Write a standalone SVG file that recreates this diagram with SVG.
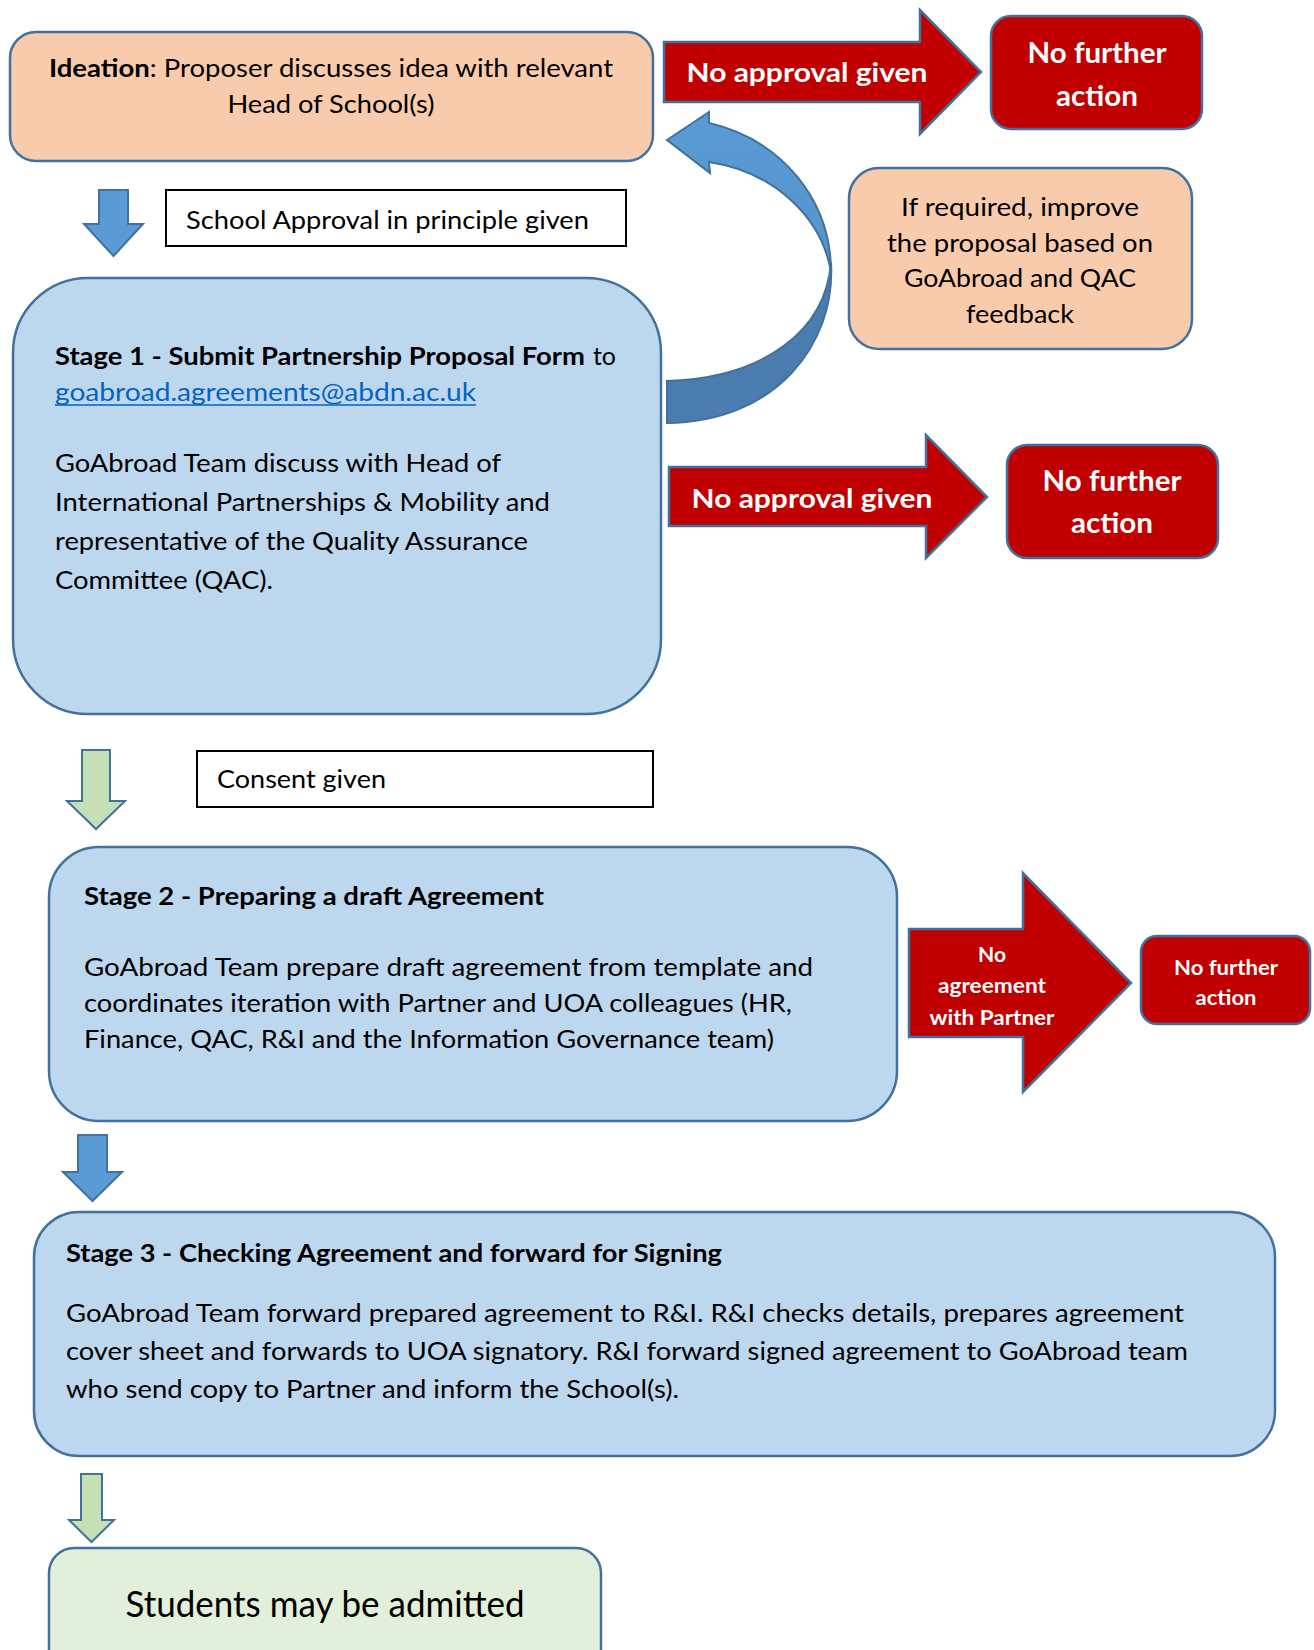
<svg xmlns="http://www.w3.org/2000/svg" width="1314" height="1650" viewBox="0 0 1314 1650">
<style>
text{font-family:Lato,"Open Sans","Liberation Sans",sans-serif;fill:#000;font-size:25px}
.b{font-weight:bold}
.w{fill:#fff;font-weight:bold}
.c{text-anchor:middle}
.f27{font-size:27px}
.f28{font-size:28px}
.f21{font-size:21px}
.f20{font-size:20px}
.f37{font-size:37px}
.link{fill:#0563C1}
.blue{fill:#BDD7EE;stroke:#41719C;stroke-width:2.5}
.peach{fill:#F8CBAD;stroke:#41719C;stroke-width:2.5}
.red{fill:#C00000;stroke:#41719C;stroke-width:2.5}
.lbl{fill:#fff;stroke:#000;stroke-width:2}
.ab{fill:#5B9BD5;stroke:#41719C;stroke-width:2}
.ag{fill:#C5E0B4;stroke:#41719C;stroke-width:2}
</style>
<defs>
<linearGradient id="cg" x1="0" y1="0" x2="0" y2="1">
<stop offset="0" stop-color="#5B9BD5"/><stop offset="1" stop-color="#5493CC"/>
</linearGradient>
</defs>
<rect width="1314" height="1650" fill="#fff"/>

<g id="connectors">
<polygon class="ab" points="99,190 128,190 128,224 143,224 113.5,256 84,224 99,224"/>
<polygon class="ag" points="82,750 110,750 110,801 125,801 96,829 67,801 82,801"/>
<polygon class="ab" points="78,1135 107,1135 107,1172 122,1172 92.5,1201 63,1172 78,1172"/>
<polygon class="ag" points="81,1474 102,1474 102,1520 114,1520 91.5,1542 69,1520 81,1520"/>
<g id="curved-arrow">
<path d="M831,262 C836,345 775,422 667,423 L667,381 C765,378 826,330 831,262 Z" fill="#4A7CB0" stroke="#41719C" stroke-width="2"/>
<path d="M667,140 L709,112 L709,123 C782,140 831,200 831,272 C822,218 775,172 709,162 L710,173 Z" fill="url(#cg)" stroke="#41719C" stroke-width="2"/>
</g>
</g>

<g id="ideation">
<rect class="peach" x="10" y="32" width="643" height="129" rx="26"/>
<text x="49" y="77" textLength="564" lengthAdjust="spacingAndGlyphs"><tspan class="b">Ideation</tspan>: Proposer discusses idea with relevant</text>
<text class="c" x="331" y="113" textLength="207" lengthAdjust="spacingAndGlyphs">Head of School(s)</text>
</g>

<g id="no-approval-1">
<polygon class="red" points="664,42 920,42 920,10 981,72 920,134 920,102 664,102"/>
<text class="w c f27" x="807" y="82" textLength="241" lengthAdjust="spacingAndGlyphs">No approval given</text>
</g>

<g id="nfa-1">
<rect class="red" x="991" y="16" width="211" height="113" rx="20"/>
<text class="w c f28" x="1097" y="63" textLength="139" lengthAdjust="spacingAndGlyphs">No further</text>
<text class="w c f28" x="1097" y="106" textLength="82" lengthAdjust="spacingAndGlyphs">action</text>
</g>

<g id="school-approval">
<rect class="lbl" x="166" y="190" width="460" height="56"/>
<text x="186" y="229" textLength="403" lengthAdjust="spacingAndGlyphs">School Approval in principle given</text>
</g>

<g id="improve">
<rect class="peach" x="849" y="168" width="343" height="181" rx="30"/>
<text class="c" x="1020" y="216" textLength="238" lengthAdjust="spacingAndGlyphs">If required, improve</text>
<text class="c" x="1020" y="252" textLength="266" lengthAdjust="spacingAndGlyphs">the proposal based on</text>
<text class="c" x="1020" y="287" textLength="232" lengthAdjust="spacingAndGlyphs">GoAbroad and QAC</text>
<text class="c" x="1020" y="323" textLength="108" lengthAdjust="spacingAndGlyphs">feedback</text>
</g>

<g id="stage1">
<rect class="blue" x="13" y="278" width="648" height="436" rx="75"/>
<text class="b" x="55" y="365" textLength="530" lengthAdjust="spacingAndGlyphs">Stage 1 - Submit Partnership Proposal Form</text>
<text x="593" y="365" textLength="23" lengthAdjust="spacingAndGlyphs">to</text>
<text class="link" x="55" y="401" textLength="421" lengthAdjust="spacingAndGlyphs">goabroad.agreements@abdn.ac.uk</text>
<line x1="55" y1="405" x2="476" y2="405" stroke="#0563C1" stroke-width="1.5"/>
<text x="55" y="472" textLength="446" lengthAdjust="spacingAndGlyphs">GoAbroad Team discuss with Head of</text>
<text x="55" y="511" textLength="495" lengthAdjust="spacingAndGlyphs">International Partnerships &amp; Mobility and</text>
<text x="55" y="550" textLength="473" lengthAdjust="spacingAndGlyphs">representative of the Quality Assurance</text>
<text x="55" y="589" textLength="218" lengthAdjust="spacingAndGlyphs">Committee (QAC).</text>
</g>

<g id="no-approval-2">
<polygon class="red" points="669,467 926,467 926,435 987,497 926,558 926,526 669,526"/>
<text class="w c f27" x="812" y="508" textLength="241" lengthAdjust="spacingAndGlyphs">No approval given</text>
</g>

<g id="nfa-2">
<rect class="red" x="1007" y="445" width="211" height="113" rx="20"/>
<text class="w c f28" x="1112" y="491" textLength="139" lengthAdjust="spacingAndGlyphs">No further</text>
<text class="w c f28" x="1112" y="533" textLength="82" lengthAdjust="spacingAndGlyphs">action</text>
</g>

<g id="consent">
<rect class="lbl" x="197" y="751" width="456" height="56"/>
<text x="217" y="788" textLength="169" lengthAdjust="spacingAndGlyphs">Consent given</text>
</g>

<g id="stage2">
<rect class="blue" x="49" y="847" width="848" height="274" rx="50"/>
<text class="b" x="84" y="905" textLength="460" lengthAdjust="spacingAndGlyphs">Stage 2 - Preparing a draft Agreement</text>
<text x="84" y="976" textLength="729" lengthAdjust="spacingAndGlyphs">GoAbroad Team prepare draft agreement from template and</text>
<text x="84" y="1012" textLength="708" lengthAdjust="spacingAndGlyphs">coordinates iteration with Partner and UOA colleagues (HR,</text>
<text x="84" y="1048" textLength="690" lengthAdjust="spacingAndGlyphs">Finance, QAC, R&amp;I and the Information Governance team)</text>
</g>

<g id="no-agreement">
<polygon class="red" points="909,929 1023,929 1023,873 1131,983 1023,1092 1023,1037 909,1037"/>
<text class="w c f21" x="992" y="962" textLength="28" lengthAdjust="spacingAndGlyphs">No</text>
<text class="w c f21" x="992" y="993" textLength="108" lengthAdjust="spacingAndGlyphs">agreement</text>
<text class="w c f21" x="992" y="1025" textLength="125" lengthAdjust="spacingAndGlyphs">with Partner</text>
</g>

<g id="nfa-3">
<rect class="red" x="1141" y="936" width="169" height="88" rx="16"/>
<text class="w c f20" x="1226" y="975" textLength="104" lengthAdjust="spacingAndGlyphs">No further</text>
<text class="w c f20" x="1226" y="1005" textLength="61" lengthAdjust="spacingAndGlyphs">action</text>
</g>

<g id="stage3">
<rect class="blue" x="34" y="1212" width="1241" height="244" rx="45"/>
<text class="b" x="66" y="1262" textLength="656" lengthAdjust="spacingAndGlyphs">Stage 3 - Checking Agreement and forward for Signing</text>
<text x="66" y="1322" textLength="1118" lengthAdjust="spacingAndGlyphs">GoAbroad Team forward prepared agreement to R&amp;I. R&amp;I checks details, prepares agreement</text>
<text x="66" y="1360" textLength="1122" lengthAdjust="spacingAndGlyphs">cover sheet and forwards to UOA signatory. R&amp;I forward signed agreement to GoAbroad team</text>
<text x="66" y="1398" textLength="613" lengthAdjust="spacingAndGlyphs">who send copy to Partner and inform the School(s).</text>
</g>

<g id="students">
<rect x="49" y="1548" width="552" height="130" rx="25" fill="#E2EFDA" stroke="#41719C" stroke-width="2.5"/>
<text class="c f37" x="325" y="1617" textLength="399" lengthAdjust="spacingAndGlyphs">Students may be admitted</text>
</g>
</svg>
